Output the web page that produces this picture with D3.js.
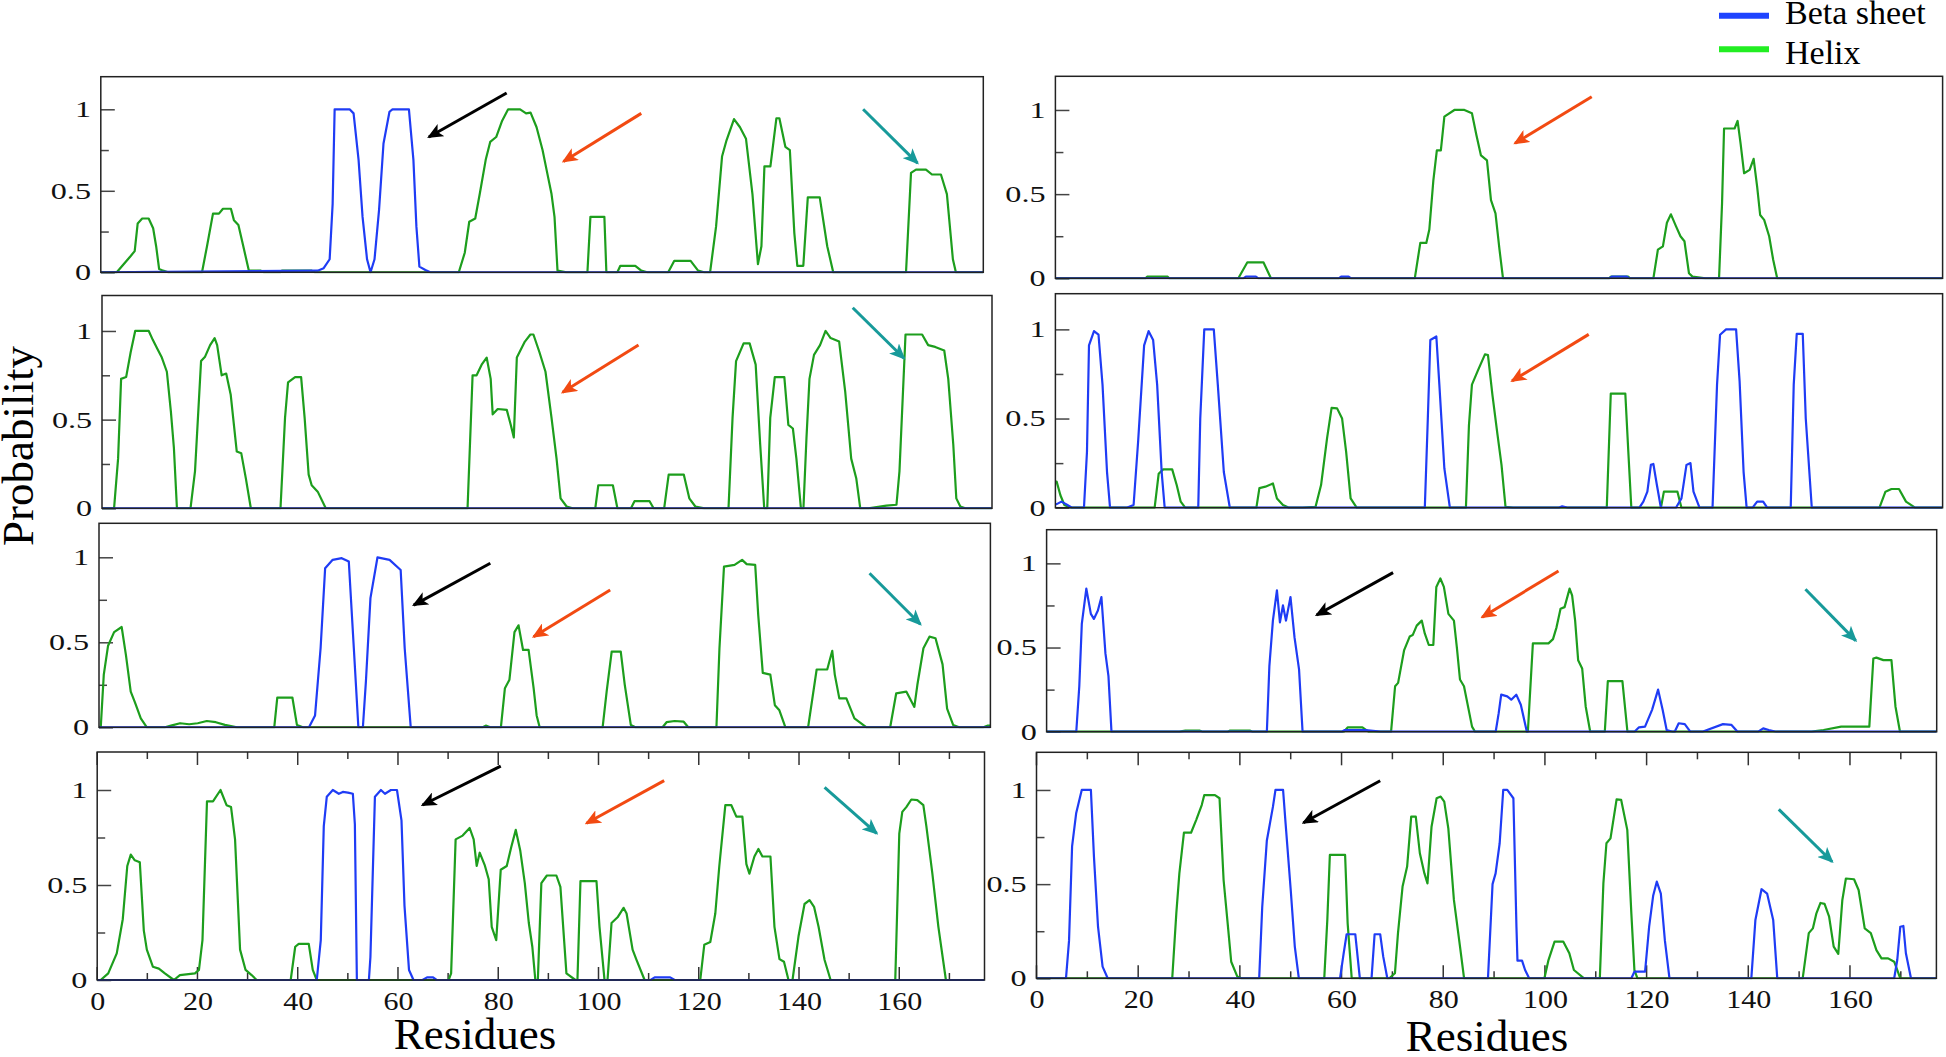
<!DOCTYPE html>
<html>
<head>
<meta charset="utf-8">
<script src="https://cdn.jsdelivr.net/npm/d3@7"></script>
<style>
  html, body { margin: 0; padding: 0; background: #fff; }
  svg { display: block; }
</style>
</head>
<body>
<svg id="chart" width="1946" height="1057"></svg>
<script>
// ---------------- DATA ([residue, probability]) ----------------
const xTicks = [0, 20, 40, 60, 80, 100, 120, 140, 160];
const yTicks = [0, 0.5, 1];
const yTickLabels = ["0", "0.5", "1"];
const seriesNames = ["Beta sheet", "Helix"];

const l1Helix = [[0,0],[3.2,0],[6.0,0.10],[6.8,0.13],[7.4,0.30],[8.3,0.33],[9.6,0.33],[10.5,0.27],[11.1,0.16],[11.7,0.02],[12.5,0.01],[13.5,0],
[20.3,0],[21.3,0.16],[22.5,0.36],[23.7,0.36],[24.5,0.39],[26.1,0.39],[26.7,0.32],[27.6,0.29],[28.5,0.17],[29.7,0.01],[32.1,0.01],[32.7,0],
[36.0,0],[36.3,0.01],[42.3,0.01],[42.9,0],
[71.8,0],[73.0,0.12],[73.9,0.31],[75.1,0.33],[76.0,0.48],[77.2,0.69],[78.1,0.80],[79.3,0.83],[80.5,0.93],[81.7,1.0],[84.1,1.0],[85.3,0.975],[86.2,0.98],[87.4,0.89],[88.6,0.75],[89.4,0.63],[90.4,0.48],[91.0,0.34],[91.6,0.01],[93.4,0],
[97.6,0],[98.2,0.34],[101.0,0.34],[101.4,0],
[103.6,0],[104.2,0.04],[107.2,0.04],[108.4,0.01],[109.6,0],
[113.8,0],[115.0,0.07],[118.3,0.07],[119.8,0.01],[121.0,0],
[122.2,0],[123.4,0.28],[124.6,0.71],[125.5,0.81],[127.0,0.94],[128.2,0.89],[129.4,0.82],[130.7,0.48],[131.8,0.05],[132.5,0.16],[133.1,0.65],[134.3,0.65],[135.5,0.945],[136.1,0.945],[137.3,0.77],[138.2,0.75],[139.1,0.24],[139.7,0.04],[140.9,0.04],[141.8,0.46],[144.2,0.46],[145.7,0.16],[146.9,0],
[161.5,0],[162.5,0.61],[163.5,0.63],[165.5,0.63],[166.7,0.60],[168.5,0.60],[169.7,0.48],[170.9,0.08],[171.5,0],[177,0]];
const l1Beta = [[0,0],[43.5,0.01],[44.7,0.025],[45.9,0.08],[46.5,0.42],[46.9,1.0],[49.3,1.0],[49.9,1.0],[50.7,0.975],[51.7,0.69],[52.5,0.34],[53.4,0.08],[54.1,0],[54.9,0.08],[55.8,0.38],[56.7,0.79],[57.9,0.985],[58.5,1.0],[61.8,1.0],[62.7,0.69],[63.3,0.28],[63.9,0.035],[65.1,0.014],[66.1,0],[177,0]];

const r1Helix = [[0,0],[18.0,0],[18.3,0.01],[22.4,0.01],[22.7,0],
[36.5,0],[38.3,0.095],[41.5,0.095],[43.0,0],
[71.7,0],[72.8,0.21],[74.0,0.21],[74.6,0.29],[75.4,0.58],[76.1,0.76],[76.9,0.76],[77.6,0.96],[79.6,1.0],[81.6,1.0],[83.1,0.98],[84.0,0.85],[84.9,0.73],[86.1,0.70],[86.9,0.465],[87.8,0.386],[88.6,0.17],[89.3,0],
[110.5,0],[110.8,0.01],[114.3,0.01],[114.6,0],
[119.3,0],[120.2,0.17],[121.2,0.19],[122.0,0.33],[122.8,0.38],[123.8,0.31],[124.7,0.25],[125.5,0.22],[126.4,0.03],[127.1,0.01],[129.7,0],
[132.4,0],[133.0,0.445],[133.4,0.89],[135.5,0.89],[136.1,0.935],[136.7,0.80],[137.4,0.624],[138.5,0.644],[139.3,0.71],[140.0,0.545],[140.6,0.376],[141.4,0.347],[142.4,0.25],[143.2,0.11],[144.0,0],[177,0]];
const r1Beta = [[0,0],[37.5,0],[38,0.01],[40,0.01],[40.5,0],[56.5,0],[57,0.01],[58.5,0.01],[59,0],[110.5,0],[111,0.01],[114,0.01],[114.5,0],[177,0]];

const l2Helix = [[0,0],[2.4,0],[3.2,0.28],[3.8,0.73],[4.8,0.74],[5.7,0.88],[6.6,1.0],[9.3,1.0],[10.1,0.95],[11.0,0.90],[11.9,0.85],[12.9,0.77],[13.7,0.545],[14.3,0.34],[14.9,0],
[17.6,0],[18.5,0.21],[19.7,0.83],[20.5,0.855],[21.5,0.92],[22.4,0.96],[22.9,0.92],[23.8,0.75],[24.7,0.76],[25.6,0.64],[26.8,0.32],[27.7,0.31],[28.6,0.17],[29.6,0],
[35.5,0],[36.4,0.51],[37.0,0.71],[38.4,0.74],[39.6,0.74],[40.3,0.51],[41.1,0.19],[41.7,0.13],[42.9,0.094],[44.5,0],
[72.7,0],[73.7,0.75],[74.5,0.75],[75.5,0.81],[76.5,0.85],[77.3,0.73],[77.7,0.53],[78.7,0.56],[80.5,0.555],[81.3,0.47],[81.9,0.40],[82.5,0.85],[84.1,0.94],[85.2,0.98],[85.8,0.98],[87.0,0.88],[88.2,0.77],[89.4,0.51],[90.4,0.28],[91.2,0.056],[92.4,0.01],[93.6,0],
[98.1,0],[98.7,0.13],[101.6,0.13],[102.5,0],
[105.2,0],[105.9,0.04],[108.9,0.04],[109.7,0],
[111.8,0],[112.7,0.19],[115.7,0.19],[116.8,0.056],[118.0,0.01],[119.8,0],
[124.6,0],[125.4,0.51],[126.1,0.83],[127.6,0.93],[128.8,0.93],[130.0,0.81],[130.9,0.36],[131.7,0],
[132.3,0],[132.9,0.51],[133.8,0.74],[135.7,0.74],[136.5,0.47],[137.4,0.45],[138.1,0.28],[139.0,0],
[139.5,0],[140.1,0.395],[140.7,0.73],[141.6,0.865],[142.8,0.92],[143.9,1.0],[144.9,0.96],[146.6,0.94],[147.8,0.66],[149.0,0.28],[150.0,0.17],[150.8,0],
[152.4,0],[156.0,0.015],[158.0,0.02],[158.6,0.21],[159.8,0.98],[163.1,0.98],[164.3,0.92],[165.7,0.91],[167.5,0.89],[168.3,0.73],[169.3,0.36],[169.9,0.056],[170.7,0.01],[171.7,0],[177,0]];
const l2Beta = [[0,0],[177,0]];

const r2Helix = [[0,0.146],[0.25,0.146],[1.0,0.07],[1.8,0.015],[3.0,0],
[19.8,0],[20.6,0.19],[21.5,0.215],[23.3,0.215],[24.2,0.127],[25.0,0.034],[25.9,0],
[40.1,0],[40.7,0.11],[41.9,0.118],[43.4,0.136],[44.2,0.052],[45.4,0.015],[46.6,0],
[49.3,0],[51.9,0.005],[53.0,0.127],[54.2,0.39],[55.1,0.56],[56.2,0.557],[57.2,0.50],[58.0,0.314],[58.9,0.052],[60.1,0],
[81.9,0],[82.5,0.46],[83.1,0.69],[84.3,0.77],[85.7,0.86],[86.3,0.856],[87.2,0.63],[88.2,0.41],[89.0,0.24],[89.8,0.005],[91.3,0],
[110.0,0],[110.8,0.64],[113.7,0.64],[114.3,0.314],[114.9,0],
[120.8,0],[121.4,0.09],[124.1,0.09],[124.9,0],
[164.4,0],[165.6,0.09],[166.8,0.105],[168.3,0.105],[169.7,0.034],[171.5,0],[177,0]];
const r2Beta = [[0,0.02],[0.25,0.02],[1.2,0.034],[2.4,0.015],[3.3,0],
[5.7,0],[6.3,0.314],[6.7,0.91],[7.7,0.99],[8.6,0.97],[9.4,0.69],[10.3,0.20],[10.9,0],
[14.2,0],[15.6,0.015],[16.5,0.37],[17.7,0.91],[18.6,0.99],[19.5,0.94],[20.3,0.69],[21.2,0.20],[21.8,0],
[28.5,0],[28.9,0.50],[29.7,1.0],[31.6,1.0],[32.4,0.69],[33.6,0.20],[34.8,0],
[73.7,0],[74.3,0.50],[74.8,0.94],[76.0,0.96],[76.6,0.69],[77.6,0.22],[78.7,0],
[100.4,0],[101.1,0.008],[102.3,0],
[116.5,0],[117.3,0.034],[118.1,0.09],[118.8,0.24],[119.3,0.245],[120.0,0.127],[120.8,0],
[123.8,0],[124.9,0.052],[125.9,0.24],[126.7,0.25],[127.3,0.09],[128.5,0],
[131.1,0],[132.0,0.69],[132.6,0.97],[133.8,1.0],[135.8,1.0],[136.5,0.71],[137.3,0.20],[137.9,0],
[139.1,0],[140.0,0.034],[141.2,0.034],[142.0,0],
[146.7,0],[147.3,0.69],[147.9,0.975],[149.1,0.975],[149.7,0.50],[150.9,0],[177,0]];

const l3Helix = [[0,0],[0.35,0],[0.95,0.31],[1.8,0.48],[3.0,0.56],[4.5,0.59],[5.35,0.425],[6.3,0.21],[7.1,0.15],[8.3,0.053],[9.5,0],
[13.1,0],[14.3,0.01],[16.1,0.024],[17.9,0.018],[19.6,0.024],[21.4,0.037],[23.2,0.03],[25.0,0.014],[27.4,0],
[34.8,0],[35.4,0.175],[38.4,0.175],[39.3,0.014],[40.5,0],
[76.2,0],[76.8,0.01],[77.7,0],
[79.8,0],[80.6,0.23],[81.5,0.28],[82.5,0.56],[83.3,0.60],[84.2,0.455],[85.3,0.455],[86.3,0.23],[86.9,0.07],[87.5,0],
[100.0,0],[100.8,0.21],[101.8,0.445],[103.6,0.445],[104.4,0.25],[105.6,0.014],[106.5,0],
[111.9,0],[112.7,0.03],[114.3,0.037],[116.1,0.033],[117.0,0],
[122.6,0],[123.2,0.465],[124.1,0.945],[126.2,0.955],[127.7,0.985],[128.6,0.96],[130.3,0.955],[130.9,0.66],[131.8,0.32],[133.3,0.31],[134.2,0.13],[135.1,0.10],[136.3,0],
[140.8,0],[142.5,0.34],[144.6,0.34],[145.6,0.45],[146.1,0.31],[147.0,0.17],[148.4,0.17],[150.0,0.053],[152.4,0],
[157.1,0],[158.3,0.20],[160.3,0.21],[161.9,0.12],[162.5,0.25],[163.7,0.465],[164.9,0.533],[166.1,0.524],[167.5,0.37],[168.4,0.11],[169.6,0.014],[170.8,0],
[175.6,0],[176.5,0.01],[177,0.01]];
const l3Beta = [[0,0],[41.7,0],[42.9,0.07],[44.0,0.465],[44.9,0.935],[46.4,0.985],[48.2,0.995],[49.6,0.975],[50.6,0.465],[51.5,0],[52.4,0],[53.0,0.27],[53.9,0.76],[55.3,1.0],[57.7,0.985],[59.9,0.925],[60.7,0.465],[61.9,0],[177,0]];

const r3Helix = [[0,0],[26.4,0],[27.6,0.006],[30.5,0.006],[31.1,0],[36.0,0],[36.4,0.006],[40.5,0.006],[41,0],
[59.1,0],[59.9,0.026],[62.8,0.026],[64.0,0],
[68.5,0],[69.3,0.27],[69.9,0.29],[71.1,0.485],[72.2,0.565],[72.8,0.574],[73.6,0.63],[74.6,0.66],[75.2,0.584],[76.0,0.515],[76.9,0.515],[77.5,0.86],[78.3,0.91],[79.0,0.86],[79.9,0.70],[81.0,0.66],[81.6,0.495],[82.2,0.31],[83.0,0.27],[84.6,0.03],[85.2,0],
[95.7,0],[96.7,0.525],[99.8,0.525],[100.7,0.55],[101.4,0.62],[102.2,0.73],[103.0,0.74],[104.0,0.85],[104.5,0.81],[105.1,0.66],[105.7,0.425],[106.5,0.376],[107.2,0.15],[108.1,0],
[111.0,0],[111.6,0.30],[114.5,0.30],[115.5,0],
[152.1,0],[154.5,0.01],[158.0,0.03],[163.6,0.03],[164.4,0.435],[165.0,0.44],[166.4,0.425],[168.0,0.425],[168.8,0.15],[169.7,0],[177,0]];
const r3Beta = [[0,0],[5.9,0],[6.5,0.27],[7.0,0.64],[7.9,0.85],[8.8,0.70],[9.4,0.67],[10.2,0.72],[10.9,0.80],[11.7,0.465],[12.3,0.33],[12.9,0],
[43.8,0],[44.3,0.39],[45.0,0.66],[45.8,0.84],[46.4,0.65],[47.0,0.75],[47.6,0.66],[48.5,0.80],[49.3,0.56],[50.2,0.37],[50.9,0],
[58.7,0],[59.3,0.01],[63.4,0.01],[66.4,0],
[89.3,0],[89.9,0.11],[90.4,0.22],[91.6,0.21],[92.4,0.19],[93.4,0.22],[94.3,0.16],[95.5,0],
[116.9,0],[117.8,0.026],[119.0,0.03],[120.4,0.13],[121.6,0.25],[122.5,0.13],[123.3,0.01],[124.5,0],
[124.9,0],[125.7,0.05],[126.9,0.045],[128.0,0],
[130.4,0],[134.5,0.045],[136.2,0.04],[137.4,0],
[141.5,0],[142.5,0.02],[143.6,0.01],[145.1,0],[177,0]];

const l4Helix = [[0,0],[0.7,0],[2.2,0.035],[3.9,0.14],[5.1,0.32],[6.0,0.60],[6.7,0.66],[7.5,0.63],[8.5,0.62],[9.3,0.26],[9.9,0.16],[11.1,0.07],[12.3,0.06],[13.5,0.035],[15.3,0],[16.5,0.026],[19.5,0.035],[20.3,0.053],[21.0,0.21],[21.9,0.94],[23.1,0.94],[24.6,1.0],[25.8,0.92],[26.7,0.91],[27.5,0.74],[28.5,0.16],[29.6,0.053],[30.8,0.026],[31.8,0],
[38.6,0],[39.5,0.175],[40.2,0.19],[42.2,0.19],[43.0,0.053],[43.8,0],
[70.1,0],[70.6,0.035],[71.5,0.74],[72.9,0.76],[74.3,0.80],[75.1,0.74],[75.7,0.60],[76.3,0.67],[77.3,0.605],[78.1,0.53],[78.7,0.28],[79.6,0.21],[80.5,0.58],[81.7,0.60],[82.6,0.70],[83.5,0.79],[84.4,0.68],[85.3,0.51],[86.1,0.30],[86.8,0.175],[87.4,0],
[87.9,0],[88.6,0.51],[89.7,0.55],[91.6,0.55],[92.4,0.49],[93.6,0.035],[95.4,0],
[95.8,0],[96.4,0.52],[99.6,0.52],[100.2,0.28],[101.2,0],
[101.8,0],[102.6,0.30],[103.8,0.33],[105.0,0.38],[105.6,0.35],[106.8,0.16],[107.6,0.105],[109.2,0],
[120.3,0],[121.1,0.185],[122.3,0.20],[123.3,0.35],[124.1,0.60],[125.3,0.92],[126.5,0.92],[127.5,0.86],[128.7,0.86],[129.5,0.61],[130.1,0.56],[131.1,0.65],[131.9,0.69],[132.7,0.65],[134.3,0.65],[135.1,0.28],[136.1,0.11],[137.0,0.096],[137.9,0],
[138.7,0],[139.9,0.23],[141.1,0.40],[142.1,0.42],[143.0,0.385],[143.9,0.28],[145.1,0.105],[146.3,0],
[159.2,0],[160.0,0.77],[160.6,0.885],[161.4,0.91],[162.4,0.95],[163.6,0.947],[164.8,0.92],[165.4,0.81],[166.6,0.56],[167.8,0.28],[169.3,0],[177,0]];
const l4Beta = [[0,0],[43.8,0],[44.6,0.21],[45.2,0.81],[45.8,0.965],[47.0,1.0],[48.2,0.98],[49.0,0.99],[50.0,0.986],[51.0,0.98],[51.4,0.82],[51.8,0],
[54.2,0],[54.5,0.12],[55.4,0.965],[56.6,1.0],[57.4,0.98],[58.6,1.0],[59.8,1.0],[60.7,0.84],[61.3,0.39],[62.2,0.053],[63.1,0],
[64.9,0],[65.8,0.014],[67.0,0.014],[67.7,0],
[110.4,0],[111.2,0.014],[114.3,0.014],[115.2,0],[177,0]];

const r4Helix = [[0,0],[26.7,0],[27.5,0.345],[28.1,0.557],[29.0,0.773],[30.4,0.773],[31.4,0.84],[32.5,0.92],[33.0,0.973],[35.1,0.973],[36.0,0.956],[36.8,0.522],[37.6,0.292],[38.3,0.088],[39.5,0.009],[40.3,0],
[56.6,0],[57.2,0.31],[57.7,0.655],[60.7,0.655],[61.2,0.292],[62.0,0],
[69.4,0],[70.5,0.027],[71.1,0.24],[72.0,0.487],[72.9,0.593],[73.7,0.858],[74.6,0.858],[75.4,0.664],[76.3,0.557],[76.9,0.504],[77.7,0.805],[78.7,0.956],[79.5,0.965],[80.2,0.938],[81.0,0.796],[82.1,0.416],[83.3,0.168],[84.1,0],
[99.9,0],[100.7,0.097],[101.9,0.195],[103.6,0.195],[104.8,0.133],[105.7,0.044],[107.7,0],
[110.8,0],[111.5,0.504],[112.1,0.717],[112.9,0.743],[114.1,0.95],[115.0,0.947],[116.2,0.788],[117.0,0.345],[117.6,0.044],[118.2,0],
[150.7,0],[151.9,0.24],[152.7,0.265],[153.4,0.345],[154.2,0.40],[155.0,0.395],[155.9,0.327],[156.8,0.168],[157.7,0.13],[158.5,0.416],[159.2,0.53],[160.8,0.526],[161.7,0.469],[162.9,0.265],[164.1,0.24],[165.2,0.15],[166.2,0.106],[167.5,0.106],[168.7,0.088],[169.9,0],[177,0]];
const r4Beta = [[0,0],[5.8,0],[6.4,0.20],[7.0,0.70],[7.8,0.876],[8.9,1.0],[10.7,1.0],[11.3,0.646],[12.1,0.274],[13.0,0.062],[14.0,0],
[43.8,0],[44.4,0.38],[45.3,0.73],[46.5,0.91],[47.0,1.0],[48.5,1.0],[49.0,0.82],[50.0,0.47],[50.8,0.17],[51.6,0],
[59.7,0],[60.4,0.13],[61.0,0.234],[62.7,0.234],[63.6,0],
[65.9,0],[66.5,0.234],[67.6,0.234],[68.2,0.115],[69.0,0],
[88.8,0],[89.7,0.50],[90.3,0.557],[91.1,0.717],[91.8,1.0],[92.6,1.0],[93.8,0.956],[94.4,0.274],[94.6,0.094],[95.5,0.094],[96.1,0.044],[96.9,0],
[117.0,0],[117.6,0.035],[119.7,0.035],[120.5,0.274],[121.3,0.44],[122.0,0.513],[122.8,0.45],[123.6,0.20],[124.5,0],
[140.6,0],[141.4,0.31],[142.6,0.473],[143.7,0.45],[144.9,0.31],[145.7,0],
[168.7,0],[169.3,0.097],[169.9,0.274],[170.5,0.278],[171.0,0.133],[172.0,0],[177,0]];

// arrows: [kind, fromResidue, fromProb, toResidue, toProb]
const l1Arrows = [["black",81.4,1.10,65.8,0.83],["orange",108.4,0.975,92.8,0.68],["teal",152.9,1.0,163.8,0.67]];
const r1Arrows = [["orange",107.0,1.079,91.7,0.802]];
const l2Arrows = [["orange",106.7,0.921,91.6,0.654],["teal",149.3,1.131,159.5,0.846]];
const r2Arrows = [["orange",106.4,0.972,91.1,0.711]];
const l3Arrows = [["black",77.7,0.965,62.5,0.719],["orange",101.5,0.808,86.3,0.533],["teal",153.0,0.906,163.1,0.606]];
const r3Arrows = [["black",68.9,0.945,53.7,0.693],["orange",101.8,0.955,86.6,0.68],["teal",150.9,0.846,160.9,0.541]];
const l4Arrows = [["black",80.5,1.126,64.9,0.921],["orange",113.1,1.049,97.6,0.825],["teal",145.1,1.014,155.5,0.772]];
const r4Arrows = [["black",67.6,1.049,52.5,0.826],["teal",146.0,0.897,156.5,0.619]];

// ---------------- LAYOUT / STYLE ----------------
const X_MAX = 177, Y_MAX = 1.2;
const colors = { beta: "#1f3cf5", helix: "#1d9e1d", legendBeta: "#1f44ff", legendHelix: "#22ee22",
                 black: "#000000", orange: "#f24a12", teal: "#179a9a" };

const panels = [
  { id: "L1", frame: [100.8, 983.3, 76.7, 272.3], helix: l1Helix, beta: l1Beta, arrows: l1Arrows },
  { id: "R1", frame: [1055.4, 1942.6, 76.3, 278.3], helix: r1Helix, beta: r1Beta, arrows: r1Arrows },
  { id: "L2", frame: [102, 992, 295.5, 508.3], helix: l2Helix, beta: l2Beta, arrows: l2Arrows },
  { id: "R2", frame: [1055.4, 1942.6, 293.7, 507.7], helix: r2Helix, beta: r2Beta, arrows: r2Arrows },
  { id: "L3", frame: [99, 990.4, 523.3, 727.3], helix: l3Helix, beta: l3Beta, arrows: l3Arrows },
  { id: "R3", frame: [1046.6, 1936.7, 529.7, 731.7], helix: r3Helix, beta: r3Beta, arrows: r3Arrows },
  { id: "L4", frame: [97.2, 984.5, 752, 980], helix: l4Helix, beta: l4Beta, arrows: l4Arrows, xAxis: true },
  { id: "R4", frame: [1036.5, 1936.4, 752.3, 978.3], helix: r4Helix, beta: r4Beta, arrows: r4Arrows, xAxis: true }
];

const svg = d3.select("#chart");
const defs = svg.append("defs");
["black", "orange", "teal"].forEach(k => {
  defs.append("marker")
    .attr("id", "head-" + k)
    .attr("markerUnits", "userSpaceOnUse")
    .attr("viewBox", "0 0 16 14")
    .attr("markerWidth", 16).attr("markerHeight", 14)
    .attr("refX", 14).attr("refY", 7)
    .attr("orient", "auto")
    .append("path").attr("d", "M0,0 L16,7 L0,14 L4,7 Z").attr("fill", colors[k]);
});

const serif = "'Liberation Serif', 'Times New Roman', serif";

panels.forEach(p => {
  const [x0, x1, y0, y1] = p.frame;
  const x = d3.scaleLinear().domain([0, X_MAX]).range([x0, x1]);
  const y = d3.scaleLinear().domain([0, Y_MAX]).range([y1, y0]);
  const g = svg.append("g").attr("class", "panel-" + p.id);

  defs.append("clipPath").attr("id", "clip-" + p.id)
    .append("rect").attr("x", x0).attr("y", y0 - 2).attr("width", x1 - x0).attr("height", y1 - y0 + 3);

  // y axis (inward ticks)
  const yAxis = d3.axisLeft(y).tickValues(yTicks).tickSize(-14).tickPadding(7)
    .tickFormat((d, i) => yTickLabels[i]);
  const ya = g.append("g").attr("transform", `translate(${x0},0)`).call(yAxis);
  ya.attr("font-family", serif);
  ya.select(".domain").remove();
  ya.selectAll("line").attr("stroke", "#444").attr("stroke-width", 1.5);
  ya.selectAll("text").attr("font-family", serif).attr("font-size", 23).attr("fill", "#111")
    .attr("transform", "scale(1.4,1)");
  const yMinor = d3.axisLeft(y).tickValues([0.25, 0.75]).tickSize(-8).tickFormat("");
  const ym = g.append("g").attr("transform", `translate(${x0},0)`).call(yMinor);
  ym.select(".domain").remove();
  ym.selectAll("line").attr("stroke", "#444").attr("stroke-width", 1.5);

  if (p.xAxis) {
    const minor = d3.range(10, X_MAX, 20);
    const allTicks = xTicks.concat(minor);
    [[y0, 1], [y1, -1]].forEach(([ty, dir]) => {
      g.append("g").selectAll("line").data(allTicks).join("line")
        .attr("x1", d => x(d)).attr("x2", d => x(d))
        .attr("y1", ty).attr("y2", d => ty + dir * (xTicks.includes(d) ? 13 : 7))
        .attr("stroke", "#333").attr("stroke-width", 1.5);
    });
    const xAxis = d3.axisBottom(x).tickValues(xTicks).tickSize(0).tickPadding(12).tickFormat(d3.format("d"));
    const xa = g.append("g").attr("transform", `translate(0,${y1})`).call(xAxis);
    xa.attr("font-family", serif);
    xa.select(".domain").remove();
    xa.selectAll("text").attr("font-family", serif).attr("font-size", 25).attr("fill", "#111")
      .attr("transform", "scale(1.2,1)");
  }

  const line = d3.line().x(d => x(d[0])).y(d => y(d[1]));
  const plot = g.append("g").attr("clip-path", `url(#clip-${p.id})`);
  plot.append("path").datum(p.helix).attr("d", line).attr("fill", "none")
    .attr("stroke", colors.helix).attr("stroke-width", 2.2).attr("stroke-linejoin", "round");
  plot.append("path").datum(p.beta).attr("d", line).attr("fill", "none")
    .attr("stroke", colors.beta).attr("stroke-width", 2.2).attr("stroke-linejoin", "round");

  // frame
  g.append("rect").attr("x", x0).attr("y", y0).attr("width", x1 - x0).attr("height", y1 - y0)
    .attr("fill", "none").attr("stroke", "#222").attr("stroke-width", 1.5);

  // arrows
  g.append("g").selectAll("line").data(p.arrows).join("line")
    .attr("x1", d => x(d[1])).attr("y1", d => y(d[2]))
    .attr("x2", d => x(d[3])).attr("y2", d => y(d[4]))
    .attr("stroke", d => colors[d[0]]).attr("stroke-width", 3)
    .attr("marker-end", d => `url(#head-${d[0]})`);
});

// axis titles
svg.append("text").attr("transform", "translate(33,446) rotate(-90)")
  .attr("text-anchor", "middle").attr("font-family", serif).attr("font-size", 45)
  .attr("fill", "#000").text("Probability");
svg.append("text").attr("x", 475).attr("y", 1049).attr("text-anchor", "middle")
  .attr("font-family", serif).attr("font-size", 45).attr("fill", "#000").text("Residues");
svg.append("text").attr("x", 1487).attr("y", 1051).attr("text-anchor", "middle")
  .attr("font-family", serif).attr("font-size", 45).attr("fill", "#000").text("Residues");

// legend
const legend = svg.append("g");
const legendRows = [{ name: seriesNames[0], color: colors.legendBeta, ly: 15.7, ty: 23.5 },
                    { name: seriesNames[1], color: colors.legendHelix, ly: 49.3, ty: 63.5 }];
legend.selectAll("line").data(legendRows).join("line")
  .attr("x1", 1719).attr("x2", 1769).attr("y1", d => d.ly).attr("y2", d => d.ly)
  .attr("stroke", d => d.color).attr("stroke-width", 6);
legend.selectAll("text").data(legendRows).join("text")
  .attr("x", 1785).attr("y", d => d.ty).attr("font-family", serif).attr("font-size", 34)
  .attr("fill", "#000").text(d => d.name);
</script>
</body>
</html>
